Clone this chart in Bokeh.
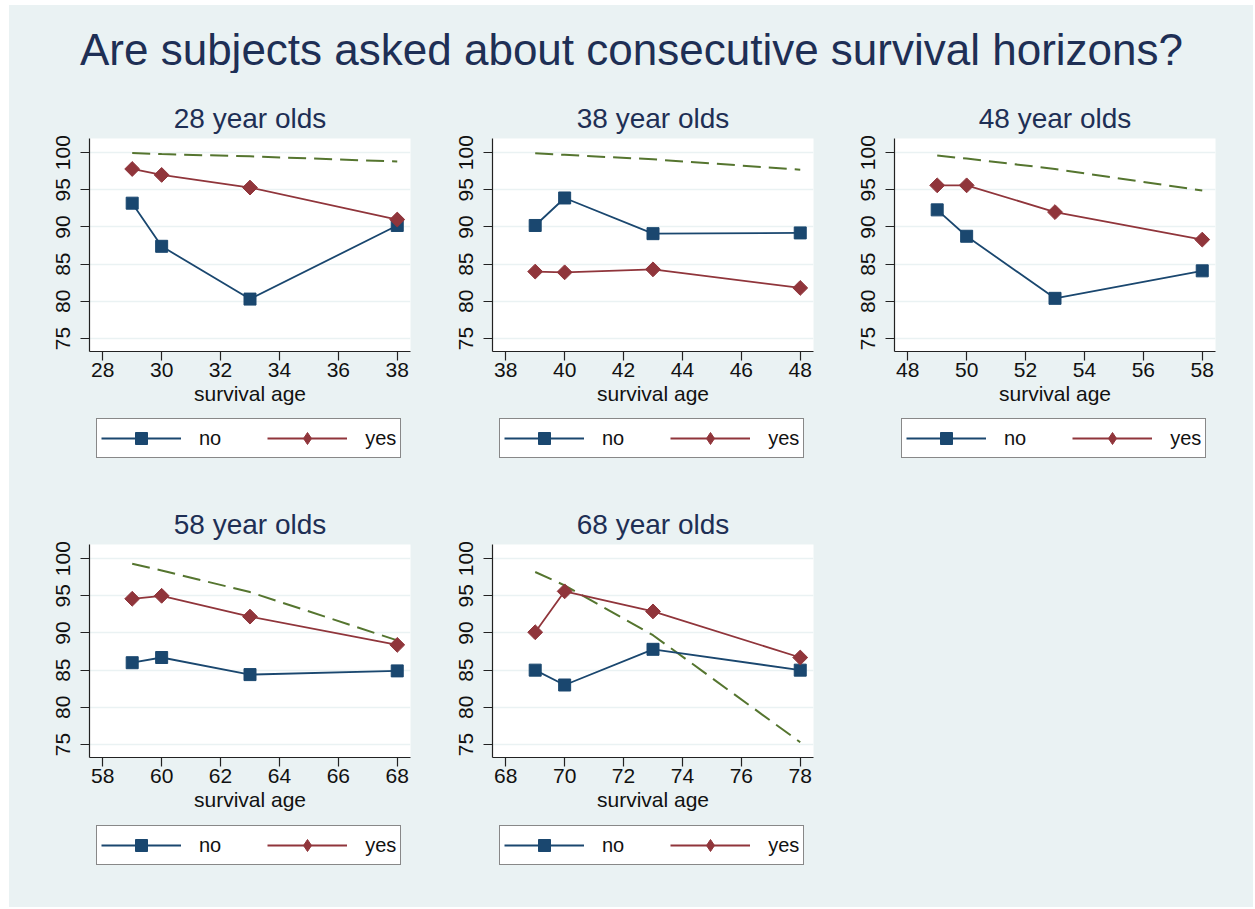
import math
from bokeh.plotting import figure
from bokeh.models import FixedTicker, Legend, LegendItem, Spacer, Title
from bokeh.layouts import column, row
from bokeh.embed import file_html
from bokeh.resources import INLINE

# ---------------- data ----------------
cohorts = ["28 year olds", "38 year olds", "48 year olds", "58 year olds", "68 year olds"]
ages_28 = [29, 30, 33, 38]
ages_38 = [39, 40, 43, 48]
ages_48 = [49, 50, 53, 58]
ages_58 = [59, 60, 63, 68]
ages_68 = [69, 70, 73, 78]

no_28 = [93.2, 87.4, 80.3, 90.2]
yes_28 = [97.8, 97.0, 95.3, 91.0]
life_28 = [99.95, 99.8, 99.5, 98.8]

no_38 = [90.2, 93.9, 89.1, 89.2]
yes_38 = [84.0, 83.9, 84.3, 81.8]
life_38 = [99.9, 99.7, 99.1, 97.7]

no_48 = [92.3, 88.75, 80.4, 84.1]
yes_48 = [95.6, 95.6, 92.0, 88.3]
life_48 = [99.6, 99.2, 97.8, 94.9]

no_58 = [86.0, 86.7, 84.4, 84.9]
yes_58 = [94.6, 95.0, 92.2, 88.4]
life_58 = [99.3, 98.4, 95.5, 89.0]

no_68 = [85.0, 83.0, 87.8, 85.0]
yes_68 = [90.1, 95.6, 92.9, 86.7]
life_68 = [98.2, 96.4, 89.7, 75.3]

x_tick_starts = [28, 38, 48, 58, 68]
y_ticks = [75, 80, 85, 90, 95, 100]

main_title = "Are subjects asked about consecutive survival horizons?"
x_label = "survival age"
legend_labels = ["no", "yes"]

# ---------------- style ----------------
BG = "#EAF2F3"
NAVY = "#1A476F"
MAROON = "#90353B"
GREEN = "#55752F"
TITLE_C = "#1E2F55"
FONT = "Liberation Sans"


def panel(title, ages, no, yes, life, x0, width, height, left, right, top, bottom):
    p = figure(
        width=width, height=height,
        x_range=(x0 - 0.45, x0 + 10.45), y_range=(73.25, 101.9),
        output_backend="svg", toolbar_location=None,
        min_border_left=left, min_border_right=right,
        min_border_top=top, min_border_bottom=bottom,
        background_fill_color="white", border_fill_color=BG,
        outline_line_color=None,
    )
    p.title.text = title
    p.title.text_font = FONT
    p.title.text_font_size = "28px"
    p.title.text_font_style = "normal"
    p.title.text_color = TITLE_C
    p.title.align = "center"
    p.title.standoff = 10

    p.xgrid.visible = False
    p.ygrid.grid_line_color = BG
    p.ygrid.grid_line_width = 1.5
    p.ygrid.ticker = FixedTicker(ticks=y_ticks)

    p.xaxis.ticker = FixedTicker(ticks=[x0 + 2 * i for i in range(6)])
    p.yaxis.ticker = FixedTicker(ticks=y_ticks)
    for ax in (p.xaxis[0], p.yaxis[0]):
        ax.axis_line_color = "#222222"
        ax.axis_line_width = 1.2
        ax.major_tick_line_color = "#222222"
        ax.major_tick_line_width = 1.2
        ax.major_tick_out = 9
        ax.major_tick_in = 0
        ax.minor_tick_out = 0
        ax.minor_tick_in = 0
        ax.major_label_text_font = FONT
        ax.major_label_text_font_size = "21px"
        ax.major_label_text_color = "#111111"
    p.yaxis.major_label_orientation = "vertical"
    p.yaxis.major_label_standoff = 10
    p.xaxis.major_label_standoff = 2
    p.xaxis.axis_label = x_label
    p.xaxis.axis_label_text_font = FONT
    p.xaxis.axis_label_text_font_size = "21px"
    p.xaxis.axis_label_text_font_style = "normal"
    p.xaxis.axis_label_text_color = "#111111"
    p.xaxis.axis_label_standoff = 2

    p.line(ages, life, line_color=GREEN, line_width=2, line_dash="18 8")
    p.line(ages, no, line_color=NAVY, line_width=1.8)
    p.scatter(ages, no, marker="square", size=12, fill_color=NAVY, line_color=NAVY)
    p.line(ages, yes, line_color=MAROON, line_width=1.8)
    p.scatter(ages, yes, marker="square", size=10.5, angle=math.pi / 4,
              fill_color=MAROON, line_color=MAROON)
    return p


def legend_fig(ages, no, yes, width, height, vx, vy):
    # legend strip below a panel; its renderers reuse the panel's series but lie
    # outside this strip's ranges, so only the legend samples are visible
    lf = figure(width=width, height=height, output_backend="svg", toolbar_location=None,
                x_range=(0, 1), y_range=(0, 1), outline_line_color=None,
                x_axis_location=None, y_axis_location=None,
                border_fill_color=BG, background_fill_color=BG,
                min_border_left=0, min_border_right=0, min_border_top=0, min_border_bottom=0)
    lf.grid.visible = False
    ln_no = lf.line(ages, no, line_color=NAVY, line_width=1.8)
    sc_no = lf.scatter(ages, no, marker="square", size=12, fill_color=NAVY, line_color=NAVY)
    ln_yes = lf.line(ages, yes, line_color=MAROON, line_width=1.8)
    sc_yes = lf.scatter(ages, yes, marker="diamond", size=14, fill_color=MAROON, line_color=MAROON)
    leg = Legend(
        items=[LegendItem(label=legend_labels[0], renderers=[ln_no, sc_no]),
               LegendItem(label=legend_labels[1], renderers=[ln_yes, sc_yes])],
        orientation="horizontal", location=(vx, vy),
        glyph_width=80, glyph_height=30, label_standoff=18, spacing=46,
        padding=4, margin=0,
        label_text_font=FONT, label_text_font_size="20px", label_text_color="#111111",
        border_line_color="#111111", border_line_width=1.2,
        background_fill_color="white", background_fill_alpha=1.0,
    )
    lf.add_layout(leg, "center")
    return lf


p1 = panel(cohorts[0], ages_28, no_28, yes_28, life_28, x_tick_starts[0], 443, 340, 80, 42, 65, 62)
p2 = panel(cohorts[1], ages_38, no_38, yes_38, life_38, x_tick_starts[1], 403, 340, 40, 42, 65, 62)
p3 = panel(cohorts[2], ages_48, no_48, yes_48, life_48, x_tick_starts[2], 398, 340, 39, 38, 65, 62)
p4 = panel(cohorts[3], ages_58, no_58, yes_58, life_58, x_tick_starts[3], 443, 324, 80, 42, 49, 62)
p5 = panel(cohorts[4], ages_68, no_68, yes_68, life_68, x_tick_starts[4], 403, 324, 40, 42, 49, 62)

l1 = legend_fig(ages_28, no_28, yes_28, 443, 82, 7, 37)
l2 = legend_fig(ages_38, no_38, yes_38, 403, 82, 7, 37)
l3 = legend_fig(ages_48, no_48, yes_48, 398, 82, 7, 37)
l4 = legend_fig(ages_58, no_58, yes_58, 443, 88, 7, 42)
l5 = legend_fig(ages_68, no_68, yes_68, 403, 88, 7, 42)

tp = figure(width=1244, height=68, output_backend="svg", toolbar_location=None,
            x_range=(0, 1), y_range=(0, 1), outline_line_color=None,
            x_axis_location=None, y_axis_location=None,
            border_fill_color=BG, background_fill_color=BG,
            min_border_left=0, min_border_right=0, min_border_bottom=0, min_border_top=0)
tp.grid.visible = False
t = Title(text=main_title, text_font=FONT, text_font_size="44px", text_font_style="normal",
          text_color=TITLE_C, align="center", offset=2, standoff=0)
tp.add_layout(t, "below")

layout = column(
    tp,
    row(column(p1, l1, spacing=0), column(p2, l2, spacing=0), column(p3, l3, spacing=0), spacing=0),
    row(column(p4, l4, spacing=0), column(p5, l5, spacing=0), Spacer(width=398, height=412), spacing=0),
    spacing=0,
    styles={"background-color": BG, "margin-left": "9px", "margin-top": "5px"},
)

open("out.html", "w").write(file_html(layout, INLINE))
